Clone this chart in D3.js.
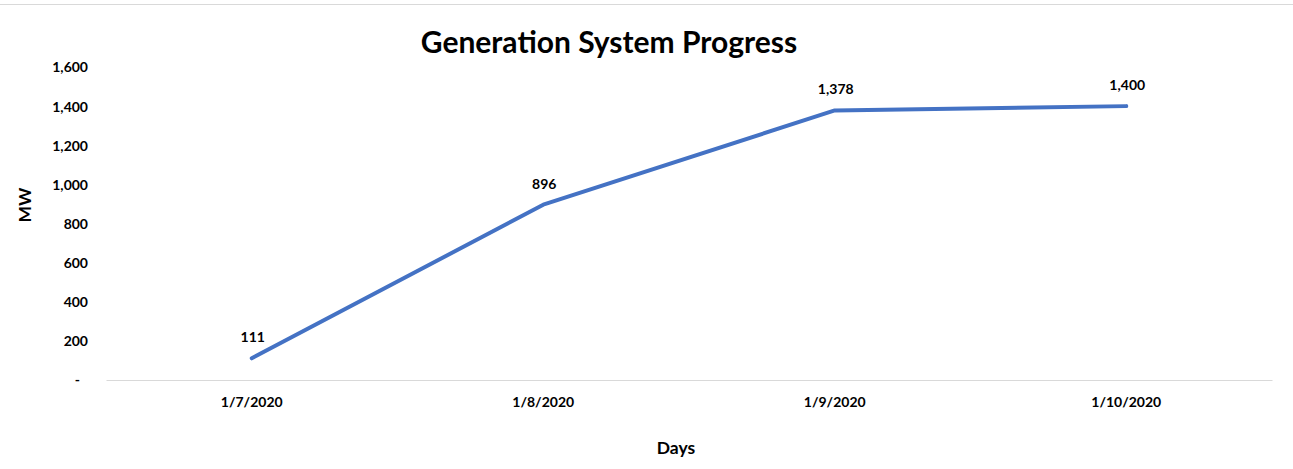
<!DOCTYPE html>
<html>
<head>
<meta charset="utf-8">
<script src="https://cdn.jsdelivr.net/npm/d3@7"></script>
<style>
    body { margin: 0; background: #fff; }
    text { font-family: Lato, "Open Sans", sans-serif; font-weight: bold; fill: #000; }
</style>
</head>
<body>
<svg id="chart" width="1293" height="469"></svg>
<script>
// values
let days = ['1/7/2020', '1/8/2020', '1/9/2020', '1/10/2020'];
let megawatts = [111, 896, 1378, 1400];
let yTicks = [0, 200, 400, 600, 800, 1000, 1200, 1400, 1600];

let svg = d3.select('#chart');
let W = 1293, H = 469;
let plotLeft = 106, plotRight = 1272, plotTop = 67, plotBottom = 380;

// thin frame line at the top
svg.append('line')
    .attr('x1', 0).attr('x2', W)
    .attr('y1', 4.5).attr('y2', 4.5)
    .attr('stroke', '#d9d9d9')
    .attr('stroke-width', 1);

let x = d3.scaleBand()
    .domain(days)
    .range([plotLeft, plotRight]);

let y = d3.scaleLinear()
    .domain([0, 1600])
    .range([plotBottom, plotTop]);

let fmt = d3.format(',');

// title
svg.append('text')
    .attr('x', 609).attr('y', 53)
    .attr('text-anchor', 'middle')
    .style('font-size', '30px')
    .text('Generation System Progress');

// y axis (labels only, no line)
let yAxis = d3.axisLeft(y)
    .tickValues(yTicks)
    .tickSize(0)
    .tickPadding(0)
    .tickFormat(d => d === 0 ? '-' : fmt(d));

let gy = svg.append('g')
    .attr('transform', 'translate(88,0)')
    .call(yAxis);
gy.select('.domain').remove();
gy.selectAll('text')
    .style('font-size', '14px')
    .attr('dy', '0.35em')
    .attr('dx', d => d === 0 ? -8 : 0);

// x axis
let xAxis = d3.axisBottom(x)
    .tickSize(0)
    .tickPadding(0);

let gx = svg.append('g')
    .attr('transform', 'translate(0,' + plotBottom + ')')
    .call(xAxis);
gx.select('.domain')
    .attr('stroke', '#d9d9d9')
    .attr('stroke-width', 1);
gx.selectAll('text')
    .style('font-size', '14px')
    .attr('y', 27)
    .attr('dy', 0);

// axis titles
svg.append('text')
    .attr('x', 676).attr('y', 454)
    .attr('text-anchor', 'middle')
    .style('font-size', '17.5px')
    .text('Days');

svg.append('text')
    .attr('transform', 'translate(31,205) rotate(-90)')
    .attr('text-anchor', 'middle')
    .style('font-size', '17.5px')
    .text('MW');

// the line
let line = d3.line()
    .x((d, i) => x(days[i]) + x.bandwidth() / 2)
    .y(d => y(d));

svg.append('path')
    .datum(megawatts)
    .attr('d', line)
    .attr('fill', 'none')
    .attr('stroke', '#4472c4')
    .attr('stroke-width', 4)
    .attr('stroke-linecap', 'round')
    .attr('stroke-linejoin', 'round');

// data labels
svg.append('g')
    .selectAll('text')
    .data(megawatts)
    .join('text')
    .attr('x', (d, i) => x(days[i]) + x.bandwidth() / 2 + 1)
    .attr('y', d => y(d) - 16)
    .attr('text-anchor', 'middle')
    .style('font-size', '14px')
    .text(d => fmt(d));
</script>
</body>
</html>
